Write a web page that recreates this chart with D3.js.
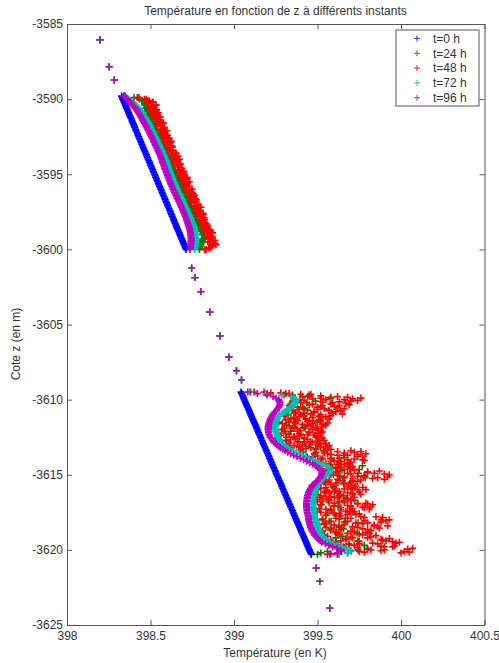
<!DOCTYPE html>
<html><head><meta charset="utf-8">
<script src="https://cdn.jsdelivr.net/npm/d3@7"></script>
<style>
body{margin:0;background:#fff;}
svg{display:block;font-family:"Liberation Sans",Arial,sans-serif;}
</style>
</head><body>
<svg id="c" width="499" height="663"></svg>
<script>
// ---------- DATA ----------
const seriesNames = ["t=0 h","t=24 h","t=48 h","t=72 h","t=96 h"];
const xTicks = [398,398.5,399,399.5,400,400.5];
const xTickLabels = ["398","398.5","399","399.5","400","400.5"];
const yTicks = [-3625,-3620,-3615,-3610,-3605,-3600,-3595,-3590,-3585];

// depth grid, upper zone (m)
const zUpper = [-3589.8,-3589.9,
 -3590,-3590.1,-3590.2,-3590.3,-3590.4,-3590.5,-3590.6,-3590.7,-3590.8,-3590.9,
 -3591,-3591.1,-3591.2,-3591.3,-3591.4,-3591.5,-3591.6,-3591.7,-3591.8,-3591.9,
 -3592,-3592.1,-3592.2,-3592.3,-3592.4,-3592.5,-3592.6,-3592.7,-3592.8,-3592.9,
 -3593,-3593.1,-3593.2,-3593.3,-3593.4,-3593.5,-3593.6,-3593.7,-3593.8,-3593.9,
 -3594,-3594.1,-3594.2,-3594.3,-3594.4,-3594.5,-3594.6,-3594.7,-3594.8,-3594.9,
 -3595,-3595.1,-3595.2,-3595.3,-3595.4,-3595.5,-3595.6,-3595.7,-3595.8,-3595.9,
 -3596,-3596.1,-3596.2,-3596.3,-3596.4,-3596.5,-3596.6,-3596.7,-3596.8,-3596.9,
 -3597,-3597.1,-3597.2,-3597.3,-3597.4,-3597.5,-3597.6,-3597.7,-3597.8,-3597.9,
 -3598,-3598.1,-3598.2,-3598.3,-3598.4,-3598.5,-3598.6,-3598.7,-3598.8,-3598.9,
 -3599,-3599.1,-3599.2,-3599.3,-3599.4,-3599.5,-3599.6,-3599.7,-3599.8,-3599.9,
 -3600];
// depth grid, lower zone (m)
const zLower = [-3609.5,-3609.6,-3609.7,-3609.8,-3609.9,
 -3610,-3610.1,-3610.2,-3610.3,-3610.4,-3610.5,-3610.6,-3610.7,-3610.8,-3610.9,
 -3611,-3611.1,-3611.2,-3611.3,-3611.4,-3611.5,-3611.6,-3611.7,-3611.8,-3611.9,
 -3612,-3612.1,-3612.2,-3612.3,-3612.4,-3612.5,-3612.6,-3612.7,-3612.8,-3612.9,
 -3613,-3613.1,-3613.2,-3613.3,-3613.4,-3613.5,-3613.6,-3613.7,-3613.8,-3613.9,
 -3614,-3614.1,-3614.2,-3614.3,-3614.4,-3614.5,-3614.6,-3614.7,-3614.8,-3614.9,
 -3615,-3615.1,-3615.2,-3615.3,-3615.4,-3615.5,-3615.6,-3615.7,-3615.8,-3615.9,
 -3616,-3616.1,-3616.2,-3616.3,-3616.4,-3616.5,-3616.6,-3616.7,-3616.8,-3616.9,
 -3617,-3617.1,-3617.2,-3617.3,-3617.4,-3617.5,-3617.6,-3617.7,-3617.8,-3617.9,
 -3618,-3618.1,-3618.2,-3618.3,-3618.4,-3618.5,-3618.6,-3618.7,-3618.8,-3618.9,
 -3619,-3619.1,-3619.2,-3619.3,-3619.4,-3619.5,-3619.6,-3619.7,-3619.8,-3619.9,
 -3620,-3620.1,-3620.2,-3620.3];
// intermediate depths for the noisy t=48 h profile, lower zone
const zLowerHalf = [-3609.55,-3609.65,-3609.75,-3609.85,-3609.95,
 -3610.05,-3610.15,-3610.25,-3610.35,-3610.45,-3610.55,-3610.65,-3610.75,-3610.85,-3610.95,
 -3611.05,-3611.15,-3611.25,-3611.35,-3611.45,-3611.55,-3611.65,-3611.75,-3611.85,-3611.95,
 -3612.05,-3612.15,-3612.25,-3612.35,-3612.45,-3612.55,-3612.65,-3612.75,-3612.85,-3612.95,
 -3613.05,-3613.15,-3613.25,-3613.35,-3613.45,-3613.55,-3613.65,-3613.75,-3613.85,-3613.95,
 -3614.05,-3614.15,-3614.25,-3614.35,-3614.45,-3614.55,-3614.65,-3614.75,-3614.85,-3614.95,
 -3615.05,-3615.15,-3615.25,-3615.35,-3615.45,-3615.55,-3615.65,-3615.75,-3615.85,-3615.95,
 -3616.05,-3616.15,-3616.25,-3616.35,-3616.45,-3616.55,-3616.65,-3616.75,-3616.85,-3616.95,
 -3617.05,-3617.15,-3617.25,-3617.35,-3617.45,-3617.55,-3617.65,-3617.75,-3617.85,-3617.95,
 -3618.05,-3618.15,-3618.25,-3618.35,-3618.45,-3618.55,-3618.65,-3618.75,-3618.85,-3618.95,
 -3619.05,-3619.15,-3619.25,-3619.35,-3619.45,-3619.55,-3619.65,-3619.75,-3619.85,-3619.95,
 -3620.05,-3620.15,-3620.25];
// points outside the zones (identical for every instant)
const zOuter = [-3586.06,-3587.84,-3588.73,-3601.25,-3601.88,-3602.81,-3604.18,-3605.76,-3607.18,-3608.07,-3608.69,-3621.21,-3622.1,-3623.88];
const tOuter = [398.197,398.253,398.283,398.746,398.766,398.801,398.855,398.915,398.969,399.015,399.045,399.493,399.513,399.573];

// t = 0 h
const t0Upper = [398.327,398.331,398.334,398.338,398.342,398.346,398.350,398.353,398.357,398.361,
 398.365,398.369,398.372,398.376,398.380,398.384,398.388,398.391,398.395,398.399,
 398.403,398.406,398.410,398.414,398.418,398.422,398.425,398.429,398.433,398.437,
 398.441,398.444,398.448,398.452,398.456,398.459,398.463,398.467,398.471,398.475,
 398.478,398.482,398.486,398.490,398.494,398.497,398.501,398.505,398.509,398.513,
 398.516,398.520,398.524,398.528,398.531,398.535,398.539,398.543,398.547,398.550,
 398.554,398.558,398.562,398.566,398.569,398.573,398.577,398.581,398.585,398.588,
 398.592,398.596,398.600,398.603,398.607,398.611,398.615,398.619,398.622,398.626,
 398.630,398.634,398.638,398.641,398.645,398.649,398.653,398.656,398.660,398.664,
 398.668,398.672,398.675,398.679,398.683,398.687,398.691,398.694,398.698,398.702,
 398.706,398.709,398.713];
const t0Lower = [399.042,399.046,399.050,399.054,399.058,399.061,399.065,399.069,399.073,399.077,
 399.081,399.085,399.089,399.093,399.097,399.100,399.104,399.108,399.112,399.116,
 399.120,399.124,399.128,399.132,399.136,399.139,399.143,399.147,399.151,399.155,
 399.159,399.163,399.167,399.171,399.174,399.178,399.182,399.186,399.190,399.194,
 399.198,399.202,399.206,399.210,399.213,399.217,399.221,399.225,399.229,399.233,
 399.237,399.241,399.245,399.248,399.252,399.256,399.260,399.264,399.268,399.272,
 399.276,399.280,399.284,399.287,399.291,399.295,399.299,399.303,399.307,399.311,
 399.315,399.319,399.323,399.326,399.330,399.334,399.338,399.342,399.346,399.350,
 399.354,399.358,399.361,399.365,399.369,399.373,399.377,399.381,399.385,399.389,
 399.393,399.397,399.400,399.404,399.408,399.412,399.416,399.420,399.424,399.428,
 399.432,399.436,399.439,399.443,399.447,399.451,399.455,399.459,399.463];
// t = 24 h
const t24Upper = [398.342,398.401,398.434,398.448,398.465,398.464,398.466,398.480,398.471,398.481,
 398.482,398.493,398.486,398.499,398.499,398.512,398.505,398.514,398.508,398.526,
 398.531,398.524,398.534,398.530,398.546,398.545,398.545,398.561,398.552,398.562,
 398.563,398.573,398.567,398.580,398.580,398.592,398.585,398.595,398.589,398.607,
 398.611,398.605,398.615,398.610,398.627,398.625,398.626,398.641,398.633,398.643,
 398.643,398.653,398.648,398.661,398.660,398.672,398.666,398.676,398.670,398.686,
 398.692,398.686,398.696,398.691,398.707,398.706,398.707,398.722,398.714,398.723,
 398.724,398.734,398.729,398.741,398.741,398.753,398.747,398.757,398.750,398.767,
 398.773,398.767,398.777,398.771,398.788,398.787,398.788,398.802,398.794,398.804,
 398.805,398.815,398.809,398.822,398.822,398.812,398.811,398.804,398.803,398.802,
 398.796,398.794,398.793];
const t24Lower = [399.100,399.200,399.350,399.442,399.577,399.393,399.489,399.436,399.339,399.530,
 399.380,399.418,399.566,399.313,399.418,399.324,399.418,399.232,399.357,399.472,
 399.267,399.366,399.315,399.225,399.426,399.287,399.340,399.503,399.266,399.391,
 399.315,399.420,399.245,399.381,399.508,399.315,399.428,399.391,399.317,399.535,
 399.413,399.481,399.658,399.438,399.579,399.521,399.641,399.482,399.631,399.769,
 399.587,399.692,399.647,399.554,399.745,399.595,399.635,399.786,399.537,399.650,
 399.563,399.656,399.469,399.593,399.708,399.503,399.601,399.548,399.456,399.655,
 399.513,399.563,399.723,399.483,399.603,399.523,399.624,399.445,399.577,399.698,
 399.499,399.601,399.552,399.464,399.667,399.529,399.581,399.744,399.506,399.629,
 399.551,399.655,399.478,399.612,399.737,399.542,399.650,399.609,399.529,399.741,
 399.613,399.687,399.780,399.655,399.799,399.743,399.560,399.520,399.500];
// t = 48 h (noisy: two readings per depth)
const t48Upper = [398.347,398.421,398.464,398.483,398.515,398.493,398.530,398.506,398.495,398.527,
 398.509,398.546,398.504,398.536,398.552,398.531,398.554,398.561,398.538,398.562,
 398.540,398.583,398.561,398.598,398.574,398.564,398.595,398.577,398.613,398.572,
 398.605,398.620,398.599,398.621,398.630,398.606,398.630,398.607,398.651,398.630,
 398.666,398.642,398.631,398.663,398.646,398.681,398.640,398.672,398.688,398.668,
 398.689,398.697,398.674,398.698,398.675,398.719,398.697,398.734,398.711,398.699,
 398.731,398.713,398.749,398.709,398.740,398.756,398.735,398.758,398.766,398.742,
 398.766,398.743,398.788,398.765,398.802,398.778,398.768,398.800,398.781,398.817,
 398.777,398.809,398.825,398.803,398.825,398.834,398.811,398.834,398.811,398.856,
 398.834,398.871,398.846,398.836,398.868,398.850,398.886,398.844,398.876,398.892,
 398.866,398.859,398.833];
const t48UpperB = [398.347,398.431,398.474,398.493,398.514,398.493,398.533,398.515,398.512,398.537,
 398.533,398.521,398.537,398.526,398.558,398.542,398.560,398.538,398.578,398.561,
 398.558,398.582,398.578,398.566,398.583,398.572,398.603,398.587,398.605,398.584,
 398.624,398.606,398.603,398.628,398.629,398.616,398.633,398.622,398.654,398.638,
 398.655,398.634,398.674,398.657,398.654,398.678,398.674,398.662,398.679,398.668,
 398.699,398.683,398.701,398.680,398.719,398.702,398.699,398.724,398.720,398.707,
 398.724,398.713,398.745,398.729,398.746,398.725,398.765,398.748,398.750,398.774,
 398.770,398.758,398.775,398.763,398.795,398.779,398.797,398.776,398.815,398.798,
 398.795,398.820,398.816,398.803,398.820,398.809,398.841,398.824,398.842,398.821,
 398.861,398.844,398.840,398.865,398.861,398.849,398.866,398.854,398.886,398.870,
 398.866,398.849,398.823];
const t48Lower = [399.12,399.31,399.45,399.62,399.76,399.55,399.70,399.40,399.58,399.33,
 399.50,399.66,399.44,399.61,399.36,399.52,399.30,399.47,399.57,399.38,
 399.50,399.29,399.44,399.53,399.35,399.47,399.30,399.52,399.40,399.28,
 399.49,399.37,399.54,399.42,399.33,399.50,399.39,399.46,399.58,399.70,
 399.49,399.79,399.62,399.74,399.53,399.68,399.58,399.52,399.66,399.57,
 399.70,399.61,399.55,399.80,399.68,399.93,399.74,399.86,399.62,399.71,
 399.54,399.66,399.50,399.72,399.60,399.79,399.55,399.68,399.49,399.63,
 399.72,399.53,399.66,399.50,399.74,399.83,399.60,399.78,399.55,399.69,
 399.52,399.75,399.61,399.85,399.70,399.93,399.57,399.80,399.66,399.92,
 399.74,399.58,399.82,399.51,399.68,399.77,399.56,399.71,399.88,399.64,
 399.99,399.75,399.60,399.90,400.07,399.82,400.02,399.68,399.56];
const t48LowerB = [399.18,399.33,399.30,399.41,399.52,399.66,399.35,399.59,399.47,399.63,
 399.41,399.54,399.35,399.48,399.59,399.40,399.51,399.36,399.43,399.52,
 399.33,399.47,399.55,399.42,399.30,399.50,399.38,399.45,399.33,399.49,
 399.36,399.51,399.31,399.46,399.52,399.41,399.55,399.34,399.49,399.54,
 399.72,399.56,399.68,399.47,399.63,399.77,399.51,399.69,399.62,399.55,
 399.64,399.53,399.72,399.62,399.84,399.58,399.78,399.66,399.90,399.63,
 399.70,399.52,399.61,399.68,399.52,399.74,399.63,399.57,399.76,399.52,
 399.60,399.68,399.57,399.63,399.79,399.52,399.70,399.64,399.81,399.58,
 399.71,399.63,399.55,399.76,399.61,399.88,399.68,399.73,399.54,399.84,
 399.63,399.77,399.58,399.72,399.81,399.63,399.53,399.80,399.67,399.91,
 399.58,399.86,399.72,399.95,399.66,399.90,399.75,400.00,399.62];
const t48LowerHalf = [399.22,399.40,399.52,399.68,399.47,399.74,399.63,399.36,399.69,399.52,
 399.62,399.39,399.57,399.48,399.65,399.42,399.55,399.34,399.51,399.45,
 399.56,399.41,399.33,399.49,399.38,399.52,399.45,399.31,399.48,399.36,
 399.53,399.44,399.31,399.47,399.55,399.36,399.52,399.43,399.56,399.76,
 399.66,399.58,399.77,399.47,399.72,399.60,399.70,399.55,399.63,399.68,
 399.58,399.66,399.87,399.61,399.90,399.78,399.66,399.83,399.57,399.74,
 399.61,399.69,399.48,399.77,399.66,399.56,399.75,399.62,399.71,399.58,
 399.67,399.49,399.70,399.57,399.80,399.68,399.77,399.51,399.64,399.72,
 399.60,399.68,399.48,399.89,399.63,399.78,399.88,399.55,399.84,399.71,
 399.87,399.64,399.53,399.79,399.62,399.85,399.70,399.93,399.58,399.95,
 399.83,399.69,399.96,399.74,400.04,399.88,399.78,399.62];
const t48LowerHalfB = [399.28,399.46,399.35,399.58,399.71,399.42,399.53,399.67,399.45,399.60,
 399.34,399.50,399.64,399.37,399.46,399.58,399.39,399.52,399.31,399.44,
 399.37,399.53,399.46,399.36,399.50,399.40,399.53,399.39,399.44,399.51,
 399.42,399.34,399.50,399.39,399.45,399.57,399.33,399.49,399.40,399.62,
 399.54,399.74,399.50,399.66,399.58,399.78,399.63,399.68,399.58,399.71,
 399.62,399.75,399.56,399.80,399.70,399.63,399.92,399.71,399.76,399.55,
 399.66,399.58,399.73,399.55,399.70,399.61,399.54,399.71,399.64,399.55,
 399.62,399.70,399.53,399.66,399.74,399.60,399.82,399.71,399.58,399.67,
 399.56,399.73,399.64,399.78,399.53,399.91,399.66,399.77,399.60,399.86,
 399.58,399.80,399.70,399.61,399.75,399.54,399.82,399.67,399.89,399.75,
 399.97,399.62,399.88,399.66,399.80,399.70,400.05,399.58];
// t = 72 h
const t72Upper = [398.343,398.356,398.369,398.381,398.393,398.403,398.412,398.421,398.429,398.436,
 398.443,398.449,398.455,398.461,398.467,398.472,398.477,398.482,398.487,398.492,
 398.497,398.502,398.506,398.511,398.516,398.520,398.525,398.529,398.533,398.538,
 398.542,398.546,398.550,398.554,398.559,398.563,398.567,398.571,398.575,398.579,
 398.583,398.586,398.589,398.593,398.596,398.600,398.603,398.606,398.609,398.612,
 398.616,398.619,398.623,398.626,398.629,398.633,398.636,398.640,398.644,398.647,
 398.651,398.655,398.659,398.663,398.667,398.671,398.676,398.680,398.684,398.689,
 398.693,398.698,398.702,398.706,398.710,398.714,398.719,398.723,398.727,398.730,
 398.734,398.738,398.742,398.745,398.748,398.751,398.754,398.757,398.760,398.763,
 398.765,398.766,398.768,398.769,398.770,398.770,398.770,398.769,398.768,398.767,
 398.766,398.765,398.763];
const t72Lower = [399.094,399.190,399.286,399.342,399.357,399.373,399.369,399.366,399.359,399.350,
 399.340,399.328,399.316,399.303,399.288,399.274,399.268,399.262,399.257,399.252,
 399.247,399.246,399.245,399.245,399.246,399.247,399.250,399.253,399.256,399.261,
 399.265,399.270,399.275,399.281,399.288,399.295,399.308,399.321,399.337,399.355,
 399.373,399.391,399.408,399.428,399.449,399.471,399.491,399.512,399.531,399.549,
 399.567,399.572,399.577,399.574,399.565,399.555,399.545,399.536,399.527,399.520,
 399.513,399.506,399.499,399.493,399.488,399.483,399.481,399.478,399.476,399.475,
 399.473,399.473,399.473,399.473,399.473,399.473,399.474,399.475,399.477,399.478,
 399.479,399.481,399.482,399.484,399.487,399.489,399.491,399.494,399.496,399.499,
 399.501,399.505,399.508,399.512,399.517,399.522,399.530,399.539,399.549,399.561,
 399.573,399.597,399.621,399.645,399.669,399.693,399.700,399.680,399.630];
// t = 96 h
const t96Upper = [398.340,398.349,398.359,398.368,398.377,398.386,398.393,398.401,398.408,398.415,
 398.421,398.426,398.432,398.438,398.443,398.448,398.453,398.458,398.463,398.468,
 398.473,398.478,398.482,398.487,398.492,398.496,398.501,398.505,398.509,398.514,
 398.518,398.522,398.526,398.530,398.535,398.539,398.543,398.547,398.551,398.555,
 398.559,398.562,398.565,398.569,398.572,398.576,398.579,398.582,398.585,398.588,
 398.592,398.595,398.599,398.602,398.605,398.609,398.612,398.616,398.620,398.623,
 398.627,398.631,398.635,398.639,398.643,398.647,398.652,398.656,398.660,398.664,
 398.668,398.673,398.677,398.681,398.685,398.689,398.693,398.697,398.701,398.704,
 398.708,398.711,398.715,398.718,398.721,398.724,398.727,398.730,398.733,398.736,
 398.738,398.739,398.741,398.742,398.743,398.743,398.743,398.742,398.741,398.740,
 398.740,398.739,398.737];
const t96Lower = [399.083,399.140,399.197,399.234,399.251,399.268,399.272,399.275,399.275,399.272,
 399.268,399.261,399.254,399.246,399.239,399.232,399.227,399.222,399.218,399.215,
 399.211,399.209,399.206,399.205,399.204,399.204,399.206,399.207,399.210,399.213,
 399.217,399.223,399.229,399.237,399.246,399.256,399.267,399.278,399.291,399.306,
 399.322,399.340,399.358,399.377,399.397,399.417,399.436,399.455,399.472,399.487,
 399.501,399.511,399.520,399.525,399.525,399.525,399.520,399.515,399.508,399.499,
 399.489,399.481,399.472,399.465,399.459,399.453,399.449,399.446,399.443,399.440,
 399.438,399.437,399.436,399.435,399.434,399.434,399.434,399.435,399.436,399.437,
 399.438,399.440,399.443,399.445,399.446,399.447,399.449,399.452,399.454,399.457,
 399.459,399.463,399.466,399.471,399.477,399.483,399.490,399.497,399.506,399.516,
 399.525,399.547,399.568,399.590,399.615,399.636,399.642,399.620,399.575];

const colors = ["#0000ff","#008000","#ff0000","#00bfbf","#bf00bf"];

// ---------- BUILD ----------
function pairs(zs, ts, outer){ return zs.map((z,i)=>({z:z,t:ts[i],o:!!outer})).filter(d=>d.t!==undefined); }
const series = [
  pairs(zUpper,t0Upper).concat(pairs(zLower,t0Lower), pairs(zOuter,tOuter,true)),
  pairs(zUpper,t24Upper).concat(pairs(zLower,t24Lower), pairs(zOuter,tOuter,true)),
  pairs(zUpper,t48Upper).concat(pairs(zUpper,t48UpperB), pairs(zLower,t48Lower), pairs(zLower,t48LowerB),
    pairs(zLowerHalf,t48LowerHalf), pairs(zLowerHalf,t48LowerHalfB), pairs(zOuter,tOuter,true)),
  pairs(zUpper,t72Upper).concat(pairs(zLower,t72Lower), pairs(zOuter,tOuter,true)),
  pairs(zUpper,t96Upper).concat(pairs(zLower,t96Lower), pairs(zOuter,tOuter,true))
];

const svg = d3.select("#c");
const x = d3.scaleLinear().domain([398,400.5]).range([67,484.5]);
const y = d3.scaleLinear().domain([-3625,-3585]).range([625,24]);
const axisColor = "#555", textColor = "#333", fs = "12px";
const plus = "M-3.5,0H3.5M0,-3.5V3.5";

series.forEach((pts,si)=>{
  svg.append("g").selectAll("path").data(pts).join("path")
    .attr("d", plus)
    .attr("transform", d=>`translate(${x(d.t)},${y(d.z)})`)
    .attr("fill","none")
    .attr("stroke", colors[si])
    .attr("stroke-width", d=>d.o?1.3:1.6);
});

function styleAxis(g){
  g.selectAll(".domain").attr("stroke",axisColor);
  g.selectAll(".tick line").attr("stroke",axisColor);
  g.selectAll(".tick text").attr("fill",textColor).style("font-size",fs).style("font-family",'"Liberation Sans",Arial,sans-serif');
}
svg.append("g").attr("transform","translate(0,625)")
  .call(d3.axisBottom(x).tickValues(xTicks).tickFormat((d,i)=>xTickLabels[i]).tickSizeInner(-5).tickSizeOuter(0).tickPadding(6))
  .call(styleAxis);
svg.append("g").attr("transform","translate(0,24)")
  .call(d3.axisTop(x).tickValues(xTicks).tickFormat("").tickSizeInner(-5).tickSizeOuter(0))
  .call(styleAxis);
svg.append("g").attr("transform","translate(67,0)")
  .call(d3.axisLeft(y).tickValues(yTicks).tickFormat(d=>String(d)).tickSizeInner(-5).tickSizeOuter(0).tickPadding(4))
  .call(styleAxis);
svg.append("g").attr("transform","translate(484.5,0)")
  .call(d3.axisRight(y).tickValues(yTicks).tickFormat("").tickSizeInner(-5).tickSizeOuter(0))
  .call(styleAxis);

svg.append("text").attr("x",275.5).attr("y",15).attr("text-anchor","middle")
  .attr("fill",textColor).style("font-size",fs).text("Température en fonction de z à différents instants");
svg.append("text").attr("x",275).attr("y",657).attr("text-anchor","middle")
  .attr("fill",textColor).style("font-size",fs).text("Température (en K)");
svg.append("text").attr("transform","translate(20,344) rotate(-90)").attr("text-anchor","middle")
  .attr("fill",textColor).style("font-size",fs).text("Cote z (en m)");

const lg = svg.append("g");
lg.append("rect").attr("x",396).attr("y",30).attr("width",83).attr("height",76)
  .attr("fill","#fff").attr("stroke",axisColor);
seriesNames.forEach((n,i)=>{
  const cy = 38.5 + i*14.8;
  lg.append("path").attr("d","M-3,0H3M0,-3V3").attr("transform",`translate(417,${cy})`)
    .attr("stroke",colors[i]).attr("stroke-width",1.2).attr("fill","none").attr("opacity",0.75);
  lg.append("text").attr("x",433).attr("y",cy).attr("dy","0.36em")
    .attr("fill",textColor).style("font-size",fs).text(n);
});
</script>
</body></html>
